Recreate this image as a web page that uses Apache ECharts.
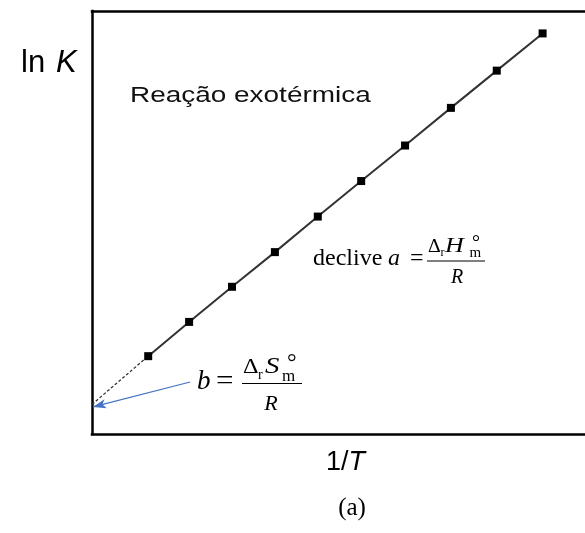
<!DOCTYPE html>
<html>
<head>
<meta charset="utf-8">
<script src="https://cdn.jsdelivr.net/npm/echarts@6/dist/echarts.min.js"></script>
<style>
  html, body { margin: 0; padding: 0; background: #fff; }
  #chart { width: 585px; height: 533px; }
</style>
</head>
<body>
<div id="chart"></div>
<script>
// van 't Hoff plot: ln K against 1/T (arbitrary units)
const invT = [1.14, 1.97, 2.84, 3.71, 4.58, 5.46, 6.35, 7.28, 8.21, 9.14];
const lnK = [1.84, 2.65, 3.48, 4.30, 5.14, 5.98, 6.82, 7.71, 8.59, 9.47];
// extrapolated intercept b on the ln K axis
const interceptB = 0.70;
// arrow from the b label to the intercept
const arrowFrom = [1.99, 1.23];
const arrowTo = [0.02, 0.64];

const yName = ['ln ', 'K'];
const xName = ['1/', 'T'];
const titleText = 'Reação exotérmica';
const panelText = '(a)';

const SERIF = '"Liberation Serif", "Times New Roman", serif';
const SANS = '"Liberation Sans", Arial, sans-serif';

// place a piece of text by its left edge and baseline
function txt(str, left, base, fs, o) {
  o = o || {};
  const fam = o.sans ? SANS : SERIF;
  const align = o.align || 'left';
  return {
    type: 'text',
    x: left,
    y: base - 0.34 * fs,
    scaleX: o.sx || 1,
    z: 10,
    silent: true,
    style: {
      text: str,
      font: (o.it ? 'italic ' : '') + fs + 'px ' + fam,
      fill: o.color || '#000',
      align: align, textAlign: align,
      verticalAlign: 'middle', textVerticalAlign: 'middle'
    }
  };
}
function bar(x1, x2, y, w) {
  return { type: 'line', z: 10, silent: true,
    shape: { x1: x1, y1: y, x2: x2, y2: y },
    style: { stroke: '#000', lineWidth: w || 1 } };
}

const frame = { show: true, onZero: false, lineStyle: { color: '#000', width: 2.5, cap: 'square' } };
const hidden = { axisTick: { show: false }, axisLabel: { show: false }, splitLine: { show: false } };

const chart = echarts.init(document.getElementById('chart'), null, { renderer: 'canvas' });

const points = invT.map((x, i) => [x, lnK[i]]);

chart.setOption({
  animation: false,
  backgroundColor: '#fff',
  grid: { left: 92, top: 11, right: 0, bottom: 99 },
  xAxis: [
    Object.assign({ type: 'value', min: 0, max: 10, position: 'bottom', axisLine: frame }, hidden),
    Object.assign({ type: 'value', min: 0, max: 10, position: 'top', axisLine: frame }, hidden)
  ],
  yAxis: Object.assign({ type: 'value', min: 0, max: 10, position: 'left', axisLine: frame }, hidden),
  series: [
    {
      type: 'line',
      data: [[0, interceptB], points[0]],
      symbol: 'none',
      lineStyle: { color: '#333', width: 1.3, type: [3, 2] },
      z: 2,
      markLine: {
        silent: true,
        animation: false,
        label: { show: false },
        lineStyle: { color: '#4472C4', width: 1.2, type: 'solid' },
        data: [[
          { coord: arrowFrom, symbol: 'none' },
          { coord: arrowTo, symbol: 'arrow', symbolSize: [7, 13] }
        ]]
      }
    },
    {
      type: 'line',
      data: points,
      symbol: 'rect',
      symbolSize: 8,
      itemStyle: { color: '#000' },
      lineStyle: { color: '#333', width: 2 },
      z: 3
    }
  ],
  graphic: [
    txt(yName[0], 21, 74, 31, { sans: true }),
    txt(yName[1], 56, 74, 31, { sans: true, it: true }),
    txt(titleText, 130, 103.5, 22, { sans: true, sx: 1.27, color: '#111' }),
    txt(xName[0], 326, 472, 27, { sans: true }),
    txt(xName[1], 348.5, 472, 27, { sans: true, it: true }),
    txt(panelText, 352, 517, 25, { align: 'center' }),

    // declive a = ΔrH°m / R
    txt('declive', 313, 267, 24),
    txt('a', 388, 267, 24, { it: true }),
    txt('=', 410, 267, 24),
    bar(427, 485, 261, 1),
    txt('Δ', 428, 253.5, 18, { sx: 1.1 }),
    txt('r', 440.5, 257, 12),
    txt('H', 445, 253.5, 20, { it: true, sx: 1.3 }),
    txt('°', 472, 250.5, 20),
    txt('m', 469.5, 258, 15),
    txt('R', 457, 285, 20, { it: true, align: 'center' }),

    // b = ΔrS°m / R
    txt('b', 197, 391, 27, { it: true }),
    txt('=', 216, 391, 27, { sx: 1.15 }),
    bar(242, 302, 383.5, 1),
    txt('Δ', 243, 374.5, 21, { sx: 1.15 }),
    txt('r', 258, 380, 14),
    txt('S', 265, 375, 23, { it: true, sx: 1.25 }),
    txt('°', 287, 372, 24),
    txt('m', 282, 382, 17),
    txt('R', 271, 412, 22, { it: true, align: 'center' })
  ]
});
</script>
</body>
</html>
